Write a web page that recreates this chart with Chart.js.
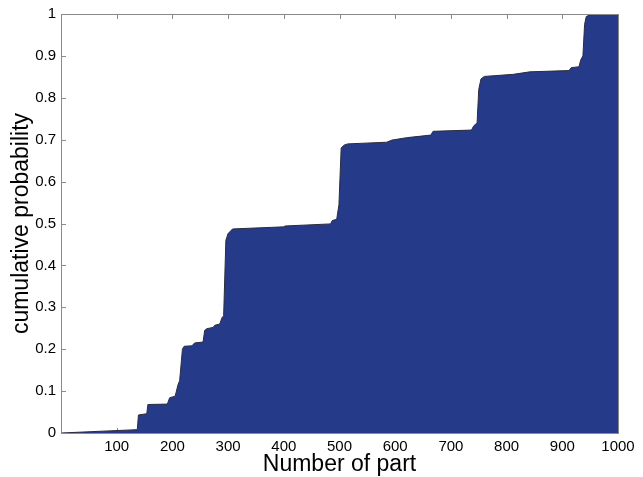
<!DOCTYPE html>
<html>
<head>
<meta charset="utf-8">
<script src="https://cdn.jsdelivr.net/npm/chart.js@4"></script>
<style>
  body { margin: 0; background: #fff; }
</style>
</head>
<body>
<canvas id="cdf" width="643" height="477"></canvas>
<script>
// cumulative probability over part number
const partNumber = [0, 137, 139, 154, 156, 191, 195, 205, 210, 213, 218, 221, 235, 240, 255, 258, 262, 273, 276, 285, 289, 292, 296, 300, 308, 400, 402, 484, 487, 495, 499, 503, 508, 515, 585, 594, 622, 664, 668, 737, 741, 747, 750, 754, 760, 812, 842, 912, 916, 930, 933, 937, 940, 943, 950, 1000];
const cumProb = [0, 0.008, 0.043, 0.046, 0.068, 0.069, 0.084, 0.088, 0.115, 0.125, 0.2, 0.207, 0.208, 0.215, 0.217, 0.245, 0.249, 0.252, 0.257, 0.26, 0.275, 0.28, 0.46, 0.476, 0.487, 0.492, 0.494, 0.499, 0.507, 0.51, 0.545, 0.68, 0.687, 0.69, 0.694, 0.699, 0.705, 0.711, 0.72, 0.723, 0.733, 0.74, 0.82, 0.845, 0.851, 0.856, 0.862, 0.865, 0.872, 0.874, 0.89, 0.9, 0.975, 0.994, 0.998, 1.0];

const xTicks = [100, 200, 300, 400, 500, 600, 700, 800, 900, 1000];
const xTickLabels = ['100', '200', '300', '400', '500', '600', '700', '800', '900', '1000'];
const yTicks = [0, 0.1, 0.2, 0.3, 0.4, 0.5, 0.6, 0.7, 0.8, 0.9, 1];
const yTickLabels = ['0', '0.1', '0.2', '0.3', '0.4', '0.5', '0.6', '0.7', '0.8', '0.9', '1'];

const axisGrey = '#8a8a8a';

// matlab style box with inward ticks
const boxAxes = {
  id: 'boxAxes',
  beforeDatasetsDraw(chart) {
    const { ctx, chartArea: a, scales: { x, y } } = chart;
    ctx.save();
    ctx.strokeStyle = axisGrey;
    ctx.lineWidth = 1;
    ctx.beginPath();
    xTicks.forEach(v => {
      const px = Math.round(x.getPixelForValue(v)) + 0.5;
      ctx.moveTo(px, a.bottom); ctx.lineTo(px, a.bottom - 5);
      ctx.moveTo(px, a.top); ctx.lineTo(px, a.top + 5);
    });
    yTicks.forEach(v => {
      const py = Math.round(y.getPixelForValue(v)) + 0.5;
      ctx.moveTo(a.left, py); ctx.lineTo(a.left + 5, py);
      ctx.moveTo(a.right, py); ctx.lineTo(a.right - 5, py);
    });
    ctx.stroke();
    ctx.restore();
  },
  afterDraw(chart) {
    const { ctx, chartArea: a } = chart;
    ctx.save();
    ctx.strokeStyle = axisGrey;
    ctx.lineWidth = 1;
    ctx.strokeRect(Math.round(a.left) + 0.5, Math.round(a.top) + 0.5,
      Math.round(a.right - a.left), Math.round(a.bottom - a.top));
    ctx.restore();
  }
};

new Chart(document.getElementById('cdf'), {
  type: 'line',
  data: {
    datasets: [{
      data: partNumber.map((n, i) => ({ x: n, y: cumProb[i] })),
      fill: 'origin',
      backgroundColor: '#263a8a',
      borderColor: '#2b2b3a',
      borderWidth: 1,
      pointRadius: 0,
      tension: 0
    }]
  },
  options: {
    responsive: false,
    animation: false,
    layout: { padding: { top: 13, right: 25, left: 0, bottom: 0 } },
    plugins: { legend: { display: false }, tooltip: { enabled: false } },
    scales: {
      x: {
        type: 'linear',
        min: 0,
        max: 1000,
        grid: { display: false, drawTicks: false },
        border: { display: false },
        afterBuildTicks: s => { s.ticks = xTicks.map(v => ({ value: v })); },
        afterFit: s => { s.height = 44; },
        ticks: {
          autoSkip: false,
          maxRotation: 0,
          padding: 5,
          color: '#000',
          font: { family: 'Liberation Sans, Arial, sans-serif', size: 15 },
          callback: (v, i) => xTickLabels[i]
        },
        title: {
          display: true,
          text: 'Number of part',
          color: '#000',
          padding: { top: 0, bottom: 0 },
          font: { family: 'Liberation Sans, Arial, sans-serif', size: 23, lineHeight: 1.1 }
        }
      },
      y: {
        min: 0,
        max: 1,
        grid: { display: false, drawTicks: false },
        border: { display: false },
        afterBuildTicks: s => { s.ticks = yTicks.map(v => ({ value: v })); },
        afterFit: s => { s.width = 61; },
        ticks: {
          autoSkip: false,
          padding: 5,
          color: '#000',
          font: { family: 'Liberation Sans, Arial, sans-serif', size: 15 },
          callback: (v, i) => yTickLabels[i]
        },
        title: {
          display: true,
          text: 'cumulative probability',
          color: '#000',
          padding: { top: 8, bottom: 0 },
          font: { family: 'Liberation Sans, Arial, sans-serif', size: 23 }
        }
      }
    }
  },
  plugins: [boxAxes]
});
</script>
</body>
</html>
